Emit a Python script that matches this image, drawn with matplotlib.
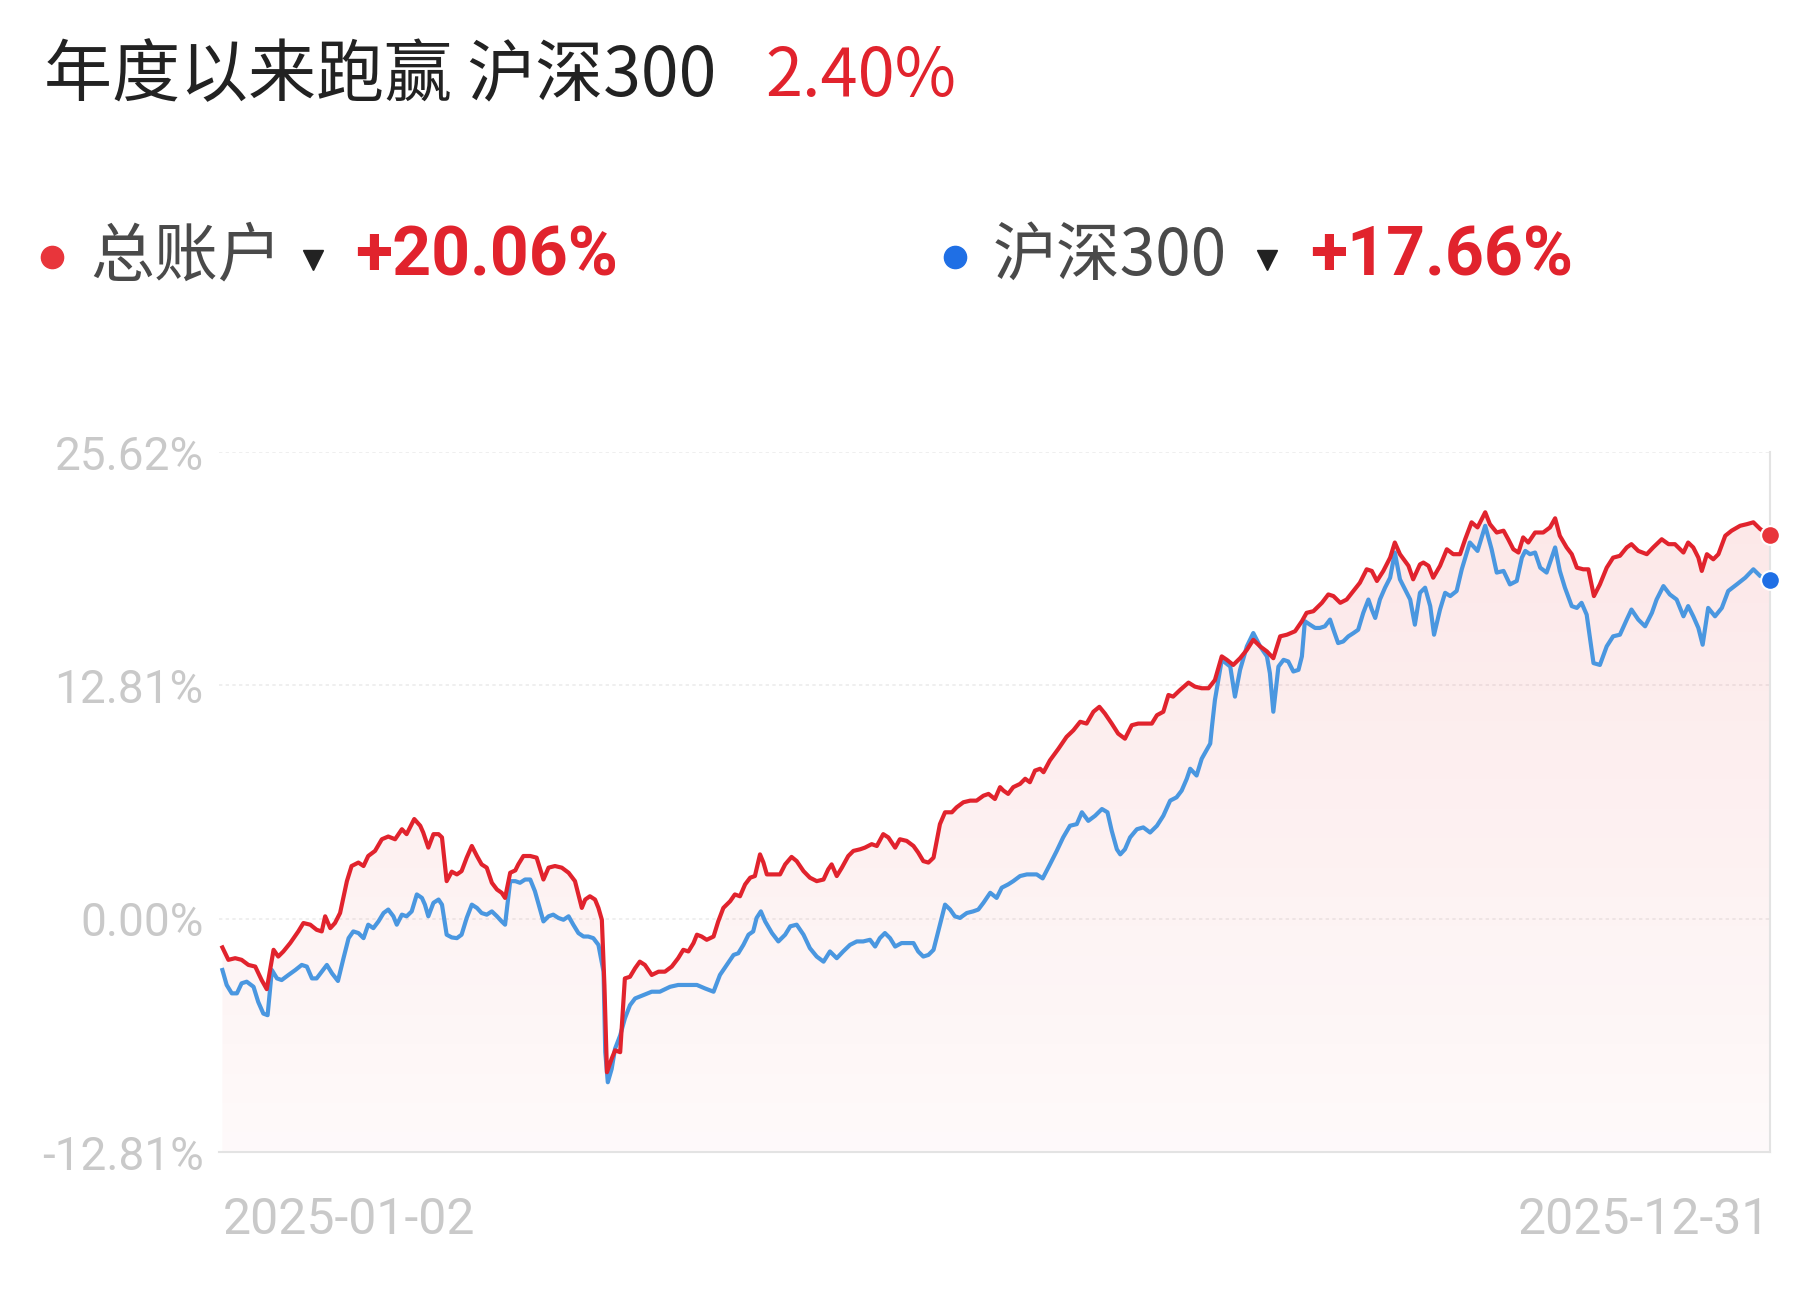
import numpy as np
import matplotlib
matplotlib.use("Agg")
import matplotlib.pyplot as plt
from matplotlib.lines import Line2D
from matplotlib import font_manager

# ---- data: cumulative return (%), x = calendar days since 2025-01-02 ----
red_days = [0.0, 1.4, 3.0, 4.5, 6.1, 7.7, 9.2, 10.4, 12.0, 13.1, 14.3, 15.9, 17.8, 19.0, 20.6, 22.1,
            23.3, 24.1, 25.3, 26.4, 27.6, 29.2, 30.3, 31.9, 33.1, 34.2, 35.8, 37.4, 38.9, 40.5, 42.1,
            43.2, 44.0, 45.0, 46.4, 47.1, 48.3, 49.5, 50.7, 51.5, 52.6, 53.8, 55.0, 56.1, 57.3, 58.5,
            59.7, 60.8, 62.0, 63.2, 64.4, 65.5, 66.3, 67.5, 68.7, 69.4, 70.6, 72.2, 73.7, 75.3, 76.5,
            78.0, 79.6, 81.2, 82.7, 84.3, 85.1, 86.2, 87.4, 88.2, 89.0, 89.6, 90.2, 91.3, 92.1, 93.3,
            94.4, 95.6, 96.8, 97.9, 99.1, 100.7, 102.3, 103.8, 105.4, 106.9, 108.1, 109.3, 110.5,
            111.3, 112.4, 113.6, 115.2, 116.3, 117.5, 119.1, 120.2, 121.4, 122.6, 123.8, 124.9,
            126.1, 126.9, 127.7, 129.2, 130.8, 132.0, 133.5, 134.7, 136.3, 137.8, 139.4, 141.0,
            142.1, 142.9, 144.1, 145.3, 146.8, 148.0, 149.6, 150.7, 152.3, 153.5, 155.0, 156.2,
            157.8, 158.9, 160.5, 162.1, 163.2, 164.4, 165.6, 166.8, 168.3, 169.5, 171.1, 172.2,
            173.8, 175.4, 176.9, 178.5, 179.7, 181.2, 182.4, 183.2, 184.3, 185.5, 187.1, 188.3,
            189.4, 190.6, 191.8, 192.6, 194.1, 196.1, 198.0, 199.6, 201.2, 202.7, 204.3, 205.7,
            207.0, 208.6, 210.1, 211.7, 213.3, 214.8, 216.4, 218.0, 219.2, 220.7, 221.9, 223.0,
            224.6, 226.6, 228.1, 229.7, 231.3, 232.8, 234.4, 235.6, 237.1, 238.7, 240.3, 241.8,
            243.4, 245.0, 246.5, 248.1, 249.7, 251.6, 253.2, 254.3, 255.9, 257.9, 259.4, 260.6,
            262.2, 263.7, 265.3, 266.8, 268.4, 269.6, 270.8, 272.3, 273.9, 275.0, 276.2, 278.2,
            279.3, 280.9, 281.7, 282.9, 284.0, 285.6, 287.2, 288.7, 290.3, 291.5, 293.0, 294.4,
            296.2, 297.3, 298.9, 300.5, 301.6, 302.8, 304.0, 305.1, 306.3, 307.9, 309.8, 311.4,
            312.6, 313.7, 315.3, 316.5, 317.7, 319.2, 320.4, 321.7, 323.1, 324.7, 326.2, 327.8,
            329.4, 330.5, 332.1, 334.1, 335.6, 337.6, 339.2, 340.7, 341.9, 342.7, 343.8, 345.0,
            346.2, 347.0, 348.2, 349.7, 350.9, 352.5, 354.0, 356.0, 357.6, 359.1, 360.7, 363.0]
red_vals = [-1.58, -2.26, -2.17, -2.26, -2.54, -2.63, -3.37, -3.87, -1.71, -2.08, -1.80, -1.34, -0.70,
            -0.24, -0.33, -0.61, -0.70, 0.13, -0.52, -0.24, 0.31, 2.06, 2.89, 3.08, 2.89, 3.44, 3.72,
            4.36, 4.51, 4.36, 4.91, 4.64, 5.01, 5.47, 5.10, 4.73, 3.90, 4.64, 4.64, 4.46, 2.06, 2.58,
            2.43, 2.61, 3.35, 3.99, 3.44, 2.98, 2.80, 1.97, 1.60, 1.42, 1.14, 2.52, 2.65, 2.98, 3.44,
            3.44, 3.35, 2.15, 2.80, 2.89, 2.80, 2.52, 2.06, 0.59, 1.05, 1.23, 1.05, 0.59, -0.06,
            -3.64, -8.43, -7.69, -7.23, -7.33, -3.28, -3.19, -2.72, -2.36, -2.54, -3.09, -2.91,
            -2.91, -2.63, -2.17, -1.71, -1.80, -1.34, -0.88, -0.98, -1.16, -0.98, -0.15, 0.59, 0.96,
            1.33, 1.23, 1.88, 2.25, 2.34, 3.53, 3.08, 2.43, 2.43, 2.43, 2.98, 3.39, 3.16, 2.61, 2.25,
            2.06, 2.15, 2.71, 2.98, 2.34, 2.80, 3.44, 3.72, 3.81, 3.90, 4.09, 3.99, 4.64, 4.46, 3.90,
            4.36, 4.27, 3.99, 3.63, 3.16, 3.08, 3.35, 5.19, 5.84, 5.84, 6.11, 6.39, 6.48, 6.48, 6.75,
            6.85, 6.57, 7.22, 7.03, 6.85, 7.22, 7.40, 7.68, 7.49, 8.13, 8.23, 8.04, 8.69, 9.33, 9.98,
            10.34, 10.81, 10.71, 11.36, 11.63, 11.26, 10.71, 10.16, 9.88, 10.62, 10.71, 10.71, 10.71,
            11.17, 11.36, 12.28, 12.19, 12.55, 12.96, 12.74, 12.65, 12.65, 13.10, 14.40, 14.21,
            13.93, 14.30, 14.76, 15.31, 14.95, 14.67, 14.30, 15.50, 15.59, 15.78, 16.33, 16.79,
            16.88, 17.34, 17.80, 17.71, 17.34, 17.52, 17.99, 18.44, 19.18, 19.09, 18.54, 19.09,
            19.82, 20.65, 20.01, 19.37, 18.63, 19.45, 19.55, 19.37, 18.72, 19.37, 20.28, 20.01,
            20.01, 20.83, 21.76, 21.48, 22.31, 21.66, 21.20, 21.30, 20.83, 20.28, 20.10, 20.93,
            20.65, 21.20, 21.20, 21.48, 21.98, 21.02, 20.38, 20.01, 19.27, 19.18, 19.18, 17.71,
            18.35, 19.27, 19.82, 19.92, 20.38, 20.56, 20.19, 20.01, 20.38, 20.83, 20.56, 20.56,
            20.28, 20.10, 20.65, 20.38, 19.82, 19.09, 20.01, 19.73, 20.01, 21.02, 21.30, 21.57,
            21.66, 21.76, 21.39, 21.06]

blue_days = [0.0, 1.0, 2.2, 3.4, 4.5, 5.7, 7.3, 8.4, 9.6, 10.6, 11.6, 12.8, 13.9, 15.5, 17.1, 18.6,
             19.8, 21.0, 22.1, 23.3, 24.5, 25.7, 27.1, 28.4, 29.6, 30.7, 31.9, 33.1, 34.2, 35.4,
             36.6, 37.8, 38.9, 40.1, 40.9, 42.1, 43.2, 44.4, 45.6, 46.8, 47.5, 48.3, 49.5, 50.7,
             51.5, 52.6, 53.8, 55.0, 56.1, 57.3, 58.5, 59.7, 60.8, 62.0, 63.2, 64.4, 65.5, 66.3,
             67.5, 68.7, 69.8, 71.0, 72.2, 73.3, 75.3, 76.5, 77.6, 78.8, 80.0, 81.2, 82.3, 83.5,
             84.7, 85.8, 87.0, 88.2, 89.4, 89.8, 90.4, 91.3, 92.1, 93.3, 94.4, 95.6, 96.8, 98.7,
             100.7, 102.6, 105.0, 106.9, 108.9, 111.3, 113.2, 115.2, 116.7, 118.3, 119.9, 121.0,
             122.2, 123.4, 124.5, 125.3, 126.3, 127.3, 128.9, 130.4, 132.0, 133.2, 134.7, 136.3,
             137.8, 139.4, 141.0, 142.5, 144.1, 145.6, 147.2, 148.8, 150.3, 151.9, 153.1, 154.2,
             155.4, 156.6, 157.8, 159.3, 160.9, 162.1, 163.2, 164.4, 165.6, 166.8, 168.3, 169.5,
             170.7, 171.8, 173.0, 174.6, 176.1, 177.3, 178.5, 180.1, 181.6, 182.8, 184.3, 185.5,
             187.1, 188.7, 191.0, 192.4, 194.1, 195.7, 197.2, 198.8, 200.4, 201.6, 203.1, 204.7,
             206.3, 207.6, 208.6, 209.8, 210.6, 211.7, 212.9, 214.5, 216.0, 217.6, 219.2, 220.7,
             222.3, 223.8, 225.0, 226.2, 227.0, 228.5, 229.7, 231.7, 232.1, 232.8, 233.6, 234.4,
             236.4, 237.5, 238.7, 240.3, 241.8, 243.4, 245.0, 245.7, 246.5, 247.7, 248.9, 250.0,
             251.2, 252.4, 253.2, 253.9, 255.1, 256.3, 257.4, 258.6, 259.8, 260.6, 261.7, 262.9,
             264.1, 265.3, 266.4, 267.6, 268.8, 269.6, 270.4, 271.5, 272.7, 273.9, 275.0, 276.2,
             277.4, 278.6, 279.7, 280.9, 282.1, 283.3, 284.2, 285.6, 286.8, 288.0, 289.5, 290.7,
             292.6, 294.4, 296.2, 297.7, 298.9, 300.5, 302.0, 303.6, 304.8, 305.6, 306.7, 307.9,
             309.1, 310.6, 312.6, 313.7, 314.9, 316.5, 317.7, 318.8, 320.0, 321.6, 323.1, 324.7,
             326.2, 327.8, 329.4, 330.5, 332.1, 333.7, 335.3, 336.4, 338.0, 339.5, 341.1, 342.7,
             343.8, 345.0, 346.2, 347.2, 348.5, 350.1, 351.7, 353.2, 355.2, 357.2, 359.1, 360.7, 363.0]
blue_vals = [-2.82, -3.64, -4.10, -4.10, -3.55, -3.46, -3.74, -4.57, -5.21, -5.30, -2.82, -3.28, -3.37,
             -3.09, -2.82, -2.54, -2.63, -3.28, -3.28, -2.91, -2.54, -3.00, -3.42, -2.17, -1.07,
             -0.70, -0.79, -1.07, -0.33, -0.52, -0.15, 0.31, 0.50, 0.13, -0.33, 0.22, 0.13, 0.40,
             1.33, 1.14, 0.77, 0.13, 0.87, 1.05, 0.77, -0.88, -1.03, -1.07, -0.88, 0.04, 0.77, 0.59,
             0.31, 0.22, 0.40, 0.13, -0.15, -0.33, 2.06, 2.06, 1.97, 2.15, 2.15, 1.51, -0.15, 0.13,
             0.22, 0.04, -0.06, 0.13, -0.33, -0.79, -0.98, -0.98, -1.07, -1.44, -2.91, -7.33, -8.98,
             -8.25, -7.14, -6.41, -5.48, -4.75, -4.38, -4.20, -4.01, -4.01, -3.74, -3.64, -3.64,
             -3.64, -3.83, -4.01, -3.09, -2.54, -1.99, -1.90, -1.44, -0.88, -0.70, 0.04, 0.40, -0.15,
             -0.79, -1.25, -0.88, -0.42, -0.33, -0.88, -1.62, -2.08, -2.36, -1.80, -2.17, -1.80,
             -1.44, -1.25, -1.25, -1.16, -1.53, -1.07, -0.79, -1.07, -1.53, -1.34, -1.34, -1.34,
             -1.80, -2.08, -1.99, -1.71, -0.33, 0.77, 0.50, 0.13, 0.04, 0.31, 0.40, 0.50, 0.87, 1.42,
             1.14, 1.70, 1.88, 2.06, 2.34, 2.43, 2.43, 2.21, 2.98, 3.72, 4.46, 5.10, 5.19, 5.84, 5.37,
             5.65, 6.02, 5.84, 4.82, 3.81, 3.53, 3.81, 4.46, 4.91, 5.01, 4.73, 5.10, 5.65, 6.48, 6.66,
             7.03, 7.68, 8.23, 7.86, 8.78, 9.61, 10.53, 12.00, 13.10, 14.21, 13.84, 12.19, 13.66,
             14.95, 15.68, 14.95, 14.40, 13.47, 11.36, 13.84, 14.21, 14.12, 13.57, 13.66, 14.40,
             16.33, 16.14, 15.96, 15.96, 16.05, 16.42, 15.86, 15.13, 15.22, 15.50, 15.68, 15.86,
             16.79, 17.52, 16.97, 16.51, 17.52, 18.17, 18.72, 20.10, 18.63, 18.07, 17.52, 16.14,
             17.89, 18.17, 17.16, 15.59, 16.97, 17.89, 17.71, 17.99, 19.18, 20.65, 20.19, 21.57,
             20.28, 19.00, 19.09, 18.35, 18.54, 19.82, 20.19, 20.01, 20.10, 19.27, 19.00, 20.38,
             19.09, 18.17, 17.16, 17.06, 17.34, 16.69, 14.03, 13.93, 14.95, 15.50, 15.59, 16.42,
             16.97, 16.42, 16.05, 16.79, 17.52, 18.26, 17.80, 17.52, 16.60, 17.16, 16.60, 15.96,
             15.04, 17.06, 16.60, 17.06, 17.99, 18.35, 18.72, 19.18, 18.81, 18.59]

y_ticks = [-12.81, 0.00, 12.81, 25.62]
x_tick_days = [0, 363]
x_tick_labels = ["2025-01-02", "2025-12-31"]

title_text = "年度以来跑赢 沪深300"
title_value = "2.40%"
series_names = ["总账户", "沪深300"]
series_returns = ["+20.06%", "+17.66%"]

RED = "#e1232d"
BLUE_LINE = "#4a97e0"
BLUE_DOT = "#1f6fe5"
CJK = ["Noto Sans CJK SC", "DejaVu Sans"]


def pick_font(name, fallback):
    try:
        font_manager.findfont(name, fallback_to_default=False)
        return name
    except Exception:
        return fallback


narrow = pick_font("Liberation Sans Narrow", "Roboto")
narrow_size = 43 if narrow == "Liberation Sans Narrow" else 36

W, H = 1806, 1308
fig = plt.figure(figsize=(W / 100, H / 100), dpi=100)
fig.patch.set_facecolor("white")

ax = fig.add_axes([219 / W, 1 - 1152 / H, (1770 - 219) / W, (1152 - 452) / H])
ax.set_xlim(-0.8, 363)
ax.set_ylim(y_ticks[0], y_ticks[-1])

# gradient fill under the account line
fill = ax.fill_between(red_days, red_vals, y_ticks[0], color="none", lw=0)
grad = np.zeros((256, 1, 4))
grad[:, 0, 0], grad[:, 0, 1], grad[:, 0, 2] = 0.90, 0.16, 0.18
grad[:, 0, 3] = np.linspace(0.11, 0.025, 256)
im = ax.imshow(grad, extent=[red_days[0], red_days[-1], y_ticks[0], max(red_vals)],
               aspect="auto", origin="upper", zorder=1, interpolation="bilinear")
im.set_clip_path(fill.get_paths()[0], transform=ax.transData)

ax.plot(blue_days, blue_vals, color=BLUE_LINE, lw=3.0, zorder=3, solid_joinstyle="round")
ax.plot(red_days, red_vals, color=RED, lw=3.0, zorder=4, solid_joinstyle="round")
ax.plot(red_days[-1], red_vals[-1], "o", ms=13.5, color="#e8353b", mec="white", mew=1.5,
        zorder=5, clip_on=False)
ax.plot(blue_days[-1], blue_vals[-1], "o", ms=13.5, color=BLUE_DOT, mec="white", mew=1.5,
        zorder=5, clip_on=False)

# grid and frame
for v in y_ticks[1:]:
    ax.axhline(v, color="#ececec", lw=1.2, ls=(0, (2, 2)), zorder=0)
for side in ["top", "left"]:
    ax.spines[side].set_visible(False)
ax.spines["bottom"].set_color("#e3e3e3")
ax.spines["bottom"].set_linewidth(1.5)
ax.spines["right"].set_color("#e3e3e3")
ax.spines["right"].set_linewidth(1.5)

ax.set_yticks(y_ticks, [f"{v:.2f}%" for v in y_ticks])
ax.tick_params(axis="y", length=0, pad=11, labelsize=33, labelcolor="#c9c9c9")
for lab in ax.get_yticklabels():
    lab.set_fontfamily("Roboto")

ax.set_xticks(x_tick_days, x_tick_labels)
ax.tick_params(axis="x", length=0, pad=32, labelsize=narrow_size, labelcolor="#c9c9c9")
xl = ax.get_xticklabels()
for lab in xl:
    lab.set_fontfamily(narrow)
xl[0].set_ha("left")
xl[1].set_ha("right")

# title
ty = 1 - 77 / H
fig.text(44 / W, ty, title_text, fontsize=49, color="#222222", family=CJK, va="center")
fig.text(765 / W, ty, title_value, fontsize=48, color=RED, family=CJK, va="center")

# legend row
ly = 1 - 257 / H
legend_cfg = [(52, 90, 313, 355, "#e8353b"), (955, 993, 1267, 1310, BLUE_DOT)]
for (dx, tx, ax_, vx, col), name, ret in zip(legend_cfg, series_names, series_returns):
    fig.add_artist(Line2D([dx / W], [ly], marker="o", ms=16, color=col, lw=0,
                          transform=fig.transFigure))
    fig.text(tx / W, ly, name, fontsize=46, color="#4a4a4a", family=CJK, va="center")
    fig.add_artist(Line2D([ax_ / W], [ly - 0.002], marker="v", ms=14, color="#222222", lw=0,
                          transform=fig.transFigure))
    fig.text(vx / W, ly, ret, fontsize=49, color=RED, family="Roboto", weight="bold",
             va="center")

fig.savefig("out.png", dpi=100, facecolor="white")
